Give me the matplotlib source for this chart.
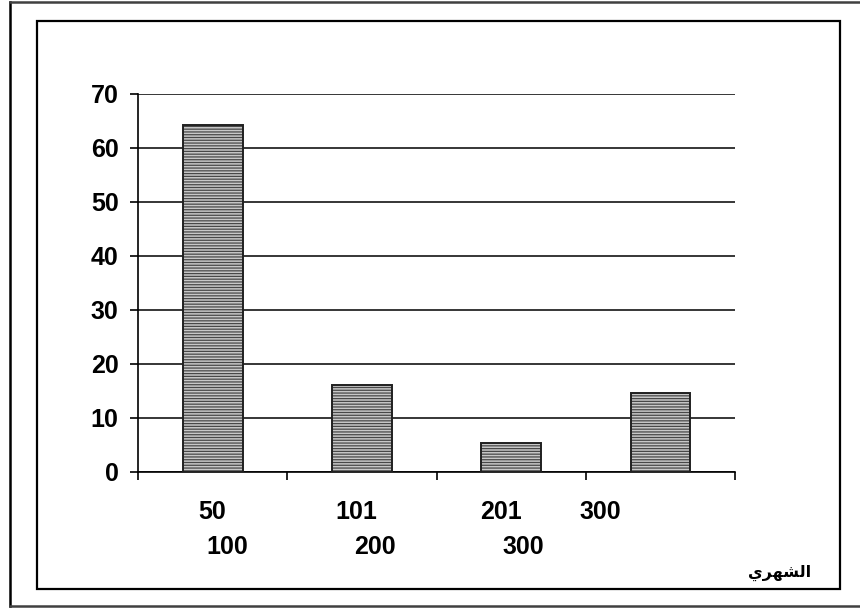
import matplotlib
matplotlib.use("Agg")
import matplotlib.pyplot as plt
from matplotlib.patches import Rectangle
from matplotlib.lines import Line2D

# الدخل الشهري - النسب المئوية
categories = ["50-100", "101-200", "201-300", "300+"]
values = [64.2, 16.1, 5.4, 14.6]
label_top = ["50", "101", "201", "300"]
label_bottom = ["100", "200", "300", ""]
yticks = [0, 10, 20, 30, 40, 50, 60, 70]
# "الشهري" بأشكال العرض (matplotlib لا يقوم بتشكيل الحروف العربية)
axis_title = "\uFEF1\uFEAE\uFEEC\uFEB8\uFEDF\uFE8D"

plt.rcParams['font.family'] = ['Liberation Sans', 'DejaVu Sans']
plt.rcParams['hatch.linewidth'] = 0.9

fig = plt.figure(figsize=(8.6, 6.08), dpi=100)
ax = fig.add_axes([0.1605, 0.2237, 0.6942, 0.6217])

x = list(range(len(categories)))
# تعبئة مخططة أفقيا ثم إطار أسود
ax.bar(x, values, width=0.4, color='#c8c8c8', edgecolor='#484848',
       hatch='------', linewidth=0, zorder=3)
ax.bar(x, values, width=0.4, fill=False, edgecolor='#202020',
       linewidth=1.4, zorder=4)

ax.set_xlim(-0.5, len(categories) - 0.5)
ax.set_ylim(0, 70)
ax.set_yticks(yticks)
ax.set_yticklabels([str(v) for v in yticks], fontsize=18, fontweight='bold')
ax.tick_params(axis='y', direction='out', length=6, width=1.2, pad=8)
ax.set_xticks([i - 0.5 for i in range(len(categories) + 1)])
ax.set_xticklabels([])
ax.tick_params(axis='x', direction='out', length=6, width=1.2)

ax.grid(axis='y', color='black', linewidth=1.1, zorder=1)
ax.set_axisbelow(True)
for s in ['top', 'right']:
    ax.spines[s].set_visible(False)
for s in ['left', 'bottom']:
    ax.spines[s].set_linewidth(1.2)

# تسميات الفئات على سطرين كما في الأصل
top_shift = [0.0, -0.04, -0.07, -0.4]
bottom_shift = [0.1, 0.09, 0.08, 0.0]
trans = ax.get_xaxis_transform()
for i in x:
    ax.text(i + top_shift[i], -0.106, label_top[i], transform=trans,
            ha='center', va='center', fontsize=18, fontweight='bold')
    if label_bottom[i]:
        ax.text(i + bottom_shift[i], -0.198, label_bottom[i], transform=trans,
                ha='center', va='center', fontsize=18, fontweight='bold')

fig.text(0.906, 0.057, axis_title, ha='center', va='center',
         fontsize=11.5, fontweight='bold', family=['DejaVu Sans'])

# الإطاران
W, H = 860, 608
fig.add_artist(Rectangle((37 / W, 1 - 589 / H), (840 - 37) / W, (589 - 21) / H,
                         transform=fig.transFigure, fill=False,
                         edgecolor='black', linewidth=1.6))
fig.add_artist(Line2D([10 / W, 10 / W], [1 - 2 / H, 1 - 606 / H],
                      transform=fig.transFigure, color='black', linewidth=1.8))
fig.add_artist(Line2D([10 / W, 1.0], [1 - 2 / H, 1 - 2 / H],
                      transform=fig.transFigure, color='#404040', linewidth=1.8))
fig.add_artist(Line2D([10 / W, 1.0], [1 - 606 / H, 1 - 606 / H],
                      transform=fig.transFigure, color='#404040', linewidth=1.8))

fig.savefig('out.png', dpi=100)
